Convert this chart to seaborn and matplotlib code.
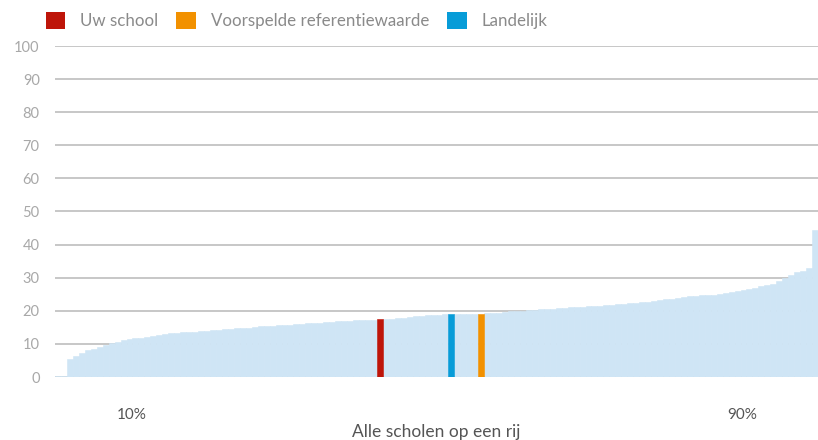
import matplotlib
matplotlib.use("Agg")
import matplotlib.pyplot as plt
from matplotlib.patches import Patch
import seaborn as sns
import pandas as pd

# alle scholen, gesorteerd op score
scores = [
    0.3, 0.3, 5.3, 6.2, 7.3, 8.2, 8.6, 9.1, 9.8, 10.2,
    10.6, 11.1, 11.4, 11.7, 11.9, 12.1, 12.4, 12.7, 13.0, 13.2,
    13.3, 13.5, 13.6, 13.7, 13.8, 14.0, 14.1, 14.3, 14.4, 14.6,
    14.7, 14.8, 14.9, 15.1, 15.3, 15.4, 15.5, 15.6, 15.7, 15.8,
    16.0, 16.1, 16.2, 16.3, 16.4, 16.6, 16.7, 16.8, 16.9, 17.0,
    17.1, 17.2, 17.3, 17.3, 17.4, 17.5, 17.6, 17.7, 17.9, 18.1,
    18.3, 18.5, 18.6, 18.7, 18.8, 18.9, 19.0, 19.0, 19.0, 19.0,
    19.0, 19.0, 19.2, 19.3, 19.4, 19.6, 19.8, 19.9, 20.0, 20.2,
    20.3, 20.4, 20.5, 20.6, 20.8, 20.9, 21.0, 21.1, 21.2, 21.4,
    21.5, 21.6, 21.8, 21.9, 22.0, 22.2, 22.3, 22.5, 22.6, 22.8,
    23.1, 23.3, 23.5, 23.7, 23.9, 24.2, 24.4, 24.6, 24.7, 24.8,
    24.9, 25.0, 25.4, 25.8, 26.1, 26.4, 26.7, 27.0, 27.4, 27.8,
    28.2, 29.0, 30.0, 30.9, 31.6, 32.1, 33.0, 44.5,
]

# plaats in de rij van de gemarkeerde staven
markers = {54: "Uw school", 66: "Landelijk", 71: "Voorspelde referentiewaarde"}

legend_labels = ["Uw school", "Voorspelde referentiewaarde", "Landelijk"]
colors = {
    "Alle scholen": "#cfe5f5",
    "Uw school": "#be1509",
    "Voorspelde referentiewaarde": "#f29100",
    "Landelijk": "#079cd8",
}

y_ticks = list(range(0, 101, 10))
x_tick_labels = ["10%", "90%"]
x_tick_fracs = [0.10, 0.90]

df = pd.DataFrame({"rank": range(len(scores)), "score": scores})
df["group"] = [markers.get(i, "Alle scholen") for i in df["rank"]]

sns.set_theme(style="white")
plt.rcParams["font.family"] = ["Lato", "DejaVu Sans"]

fig = plt.figure(figsize=(8.18, 4.40), dpi=100)
ax = fig.add_axes([55 / 818, 1 - 377 / 440, 763 / 818, 331 / 440])

sns.barplot(
    data=df, x="rank", y="score", hue="group",
    palette=colors, dodge=False, width=1.0, saturation=1,
    legend=False, ax=ax,
)
for p in ax.patches:
    p.set_edgecolor(p.get_facecolor())
    p.set_linewidth(0.4)

n = len(scores)
ax.set_xlim(-0.5, n - 0.5)
ax.set_ylim(0, 100)
ax.set_yticks(y_ticks)
ax.set_xticks([-0.5 + f * n for f in x_tick_fracs])
ax.set_xticklabels(x_tick_labels)

ax.set_axisbelow(True)
ax.yaxis.grid(True, color="#bdbdbd", linewidth=1.2)
ax.xaxis.grid(False)
for s in ax.spines.values():
    s.set_visible(False)

ax.tick_params(axis="y", length=0, pad=11, labelsize=10.5, labelcolor="#a8a8a8")
ax.tick_params(axis="x", length=0, pad=22, labelsize=11, labelcolor="#555555")
ax.set_xlabel("Alle scholen op een rij", fontsize=12.5, color="#555555", labelpad=2)
ax.set_ylabel("")

handles = [Patch(facecolor=colors[l], edgecolor="none") for l in legend_labels]
fig.legend(
    handles, legend_labels, loc="center left", bbox_to_anchor=(0.037, 0.953),
    ncol=3, frameon=False, fontsize=12.2, labelcolor="#8a8a8a",
    handlelength=1.15, handleheight=1.15, handletextpad=0.9, columnspacing=1.05,
)

fig.savefig("out.png", dpi=100)
